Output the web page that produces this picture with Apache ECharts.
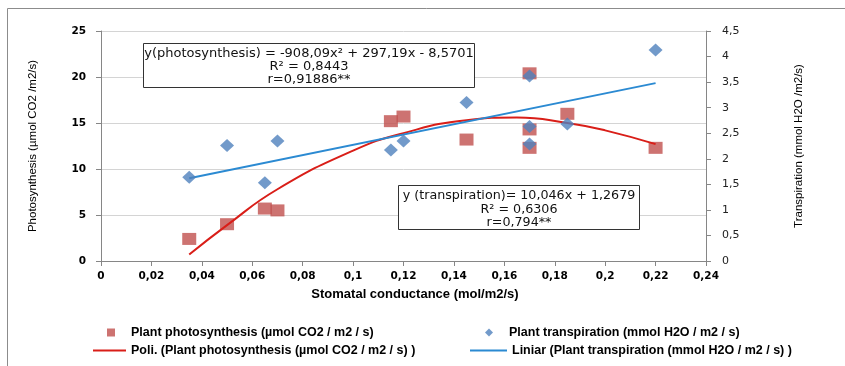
<!DOCTYPE html>
<html>
<head>
<meta charset="utf-8">
<script src="https://cdn.jsdelivr.net/npm/echarts@6/dist/echarts.min.js"></script>
<style>html,body{margin:0;padding:0;background:#fff}#c{width:845px;height:366px}</style>
</head>
<body>
<div id="c"></div>
<script>
// Stomatal conductance values (x) and measured series
const photoX = [0.035, 0.05, 0.065, 0.07, 0.115, 0.12, 0.145, 0.17, 0.17, 0.17, 0.185, 0.22];
const photoY = [2.4, 4.0, 5.7, 5.5, 15.2, 15.7, 13.2, 20.4, 14.3, 12.3, 16.0, 12.3];
const transX = [0.035, 0.05, 0.065, 0.07, 0.115, 0.12, 0.145, 0.17, 0.17, 0.17, 0.185, 0.22];
const transY = [1.64, 2.26, 1.53, 2.35, 2.17, 2.35, 3.10, 3.62, 2.63, 2.29, 2.68, 4.13];
// Trend lines
const polyX = [0.035, 0.05, 0.07, 0.1, 0.12, 0.145, 0.165, 0.185, 0.2, 0.22];
const polyY = [0.7, 3.9, 7.8, 12.0, 13.9, 15.3, 15.6, 15.0, 14.2, 12.7];
const linX = [0.035, 0.22];
const linY = [1.62, 3.48];

const nPhoto = 'Plant photosynthesis (µmol CO2 / m2 / s)';
const nTrans = 'Plant transpiration (mmol H2O / m2 / s)';
const nPoly = 'Poli. (Plant photosynthesis (µmol CO2 / m2 / s) )';
const nLin = 'Liniar (Plant transpiration (mmol H2O / m2 / s) )';
const xTitle = 'Stomatal conductance (mol/m2/s)';

const box1 = ['y(photosynthesis) = -908,09x² + 297,19x - 8,5701', 'R² = 0,8443', 'r=0,91886**'];
const box2 = ['y (transpiration)= 10,046x + 1,2679', 'R² = 0,6306', 'r=0,794**'];

const zip = (a, b) => a.map((v, i) => [v, b[i]]);
const comma = v => String(v).replace('.', ',');

const chart = echarts.init(document.getElementById('c'));
const legText = {color: '#000', fontFamily: 'Liberation Sans', fontWeight: 'bold', fontSize: 12.5};
const legTextPad = Object.assign({}, legText, {padding: [0, 0, 0, 11]});
chart.setOption({
  animation: false,
  grid: {left: 101, right: 139, top: 31, bottom: 105},
  xAxis: {
    type: 'value', min: 0, max: 0.24, interval: 0.02,
    axisLine: {lineStyle: {color: '#868686'}},
    axisTick: {show: true, length: 5, lineStyle: {color: '#868686'}},
    splitLine: {show: false},
    axisLabel: {formatter: comma, fontFamily: 'DejaVu Sans', fontWeight: 'bold', fontSize: 10.5, color: '#000', margin: 10}
  },
  yAxis: [{
    type: 'value', min: 0, max: 25, interval: 5,
    name: 'Photosynthesis (µmol CO2 /m2/s)', nameLocation: 'middle', nameGap: 62, nameRotate: 90,
    nameTextStyle: {fontFamily: 'Liberation Sans Narrow, Liberation Sans', fontSize: 11.5, color: '#000'},
    axisLine: {show: true, lineStyle: {color: '#868686'}},
    axisTick: {show: true, length: 5, lineStyle: {color: '#868686'}},
    splitLine: {show: true, lineStyle: {color: '#d4d4d4'}},
    axisLabel: {fontFamily: 'DejaVu Sans', fontWeight: 'bold', fontSize: 10.5, color: '#000', margin: 15}
  }, {
    type: 'value', min: 0, max: 4.5, interval: 0.5, position: 'right',
    name: 'Transpiration (mmol H2O /m2/s)', nameLocation: 'middle', nameGap: 87, nameRotate: 90,
    nameTextStyle: {fontFamily: 'Liberation Sans Narrow, Liberation Sans', fontSize: 11.5, color: '#000'},
    axisLine: {show: true, lineStyle: {color: '#868686'}},
    axisTick: {show: true, length: 5, lineStyle: {color: '#868686'}},
    splitLine: {show: false},
    axisLabel: {formatter: comma, fontFamily: 'DejaVu Sans', fontSize: 11, color: '#222', margin: 16}
  }],
  legend: [
    {data: [{name: nPhoto, icon: 'rect'}], left: 102, top: 321, itemWidth: 8, itemHeight: 8, textStyle: legTextPad},
    {data: [{name: nTrans, icon: 'diamond'}], left: 480, top: 321, itemWidth: 8, itemHeight: 8, textStyle: legTextPad},
    {data: [{name: nPoly, icon: 'rect'}], left: 88, top: 339, itemWidth: 33, itemHeight: 2, textStyle: legText},
    {data: [{name: nLin, icon: 'rect'}], left: 465, top: 339, itemWidth: 37, itemHeight: 2, textStyle: legText}
  ],
  series: [
    {name: nPoly, type: 'line', yAxisIndex: 0, data: zip(polyX, polyY), smooth: 0.5, showSymbol: false, symbol: 'none',
     lineStyle: {color: '#d91e18', width: 2}, itemStyle: {color: '#d91e18'}, z: 3},
    {name: nLin, type: 'line', yAxisIndex: 1, data: zip(linX, linY), showSymbol: false, symbol: 'none',
     lineStyle: {color: '#2b8ad2', width: 2}, itemStyle: {color: '#2b8ad2'}, z: 3},
    {name: nPhoto, type: 'scatter', yAxisIndex: 0, data: zip(photoX, photoY), symbol: 'rect', symbolSize: [14, 12],
     itemStyle: {color: '#c0504d'}, z: 2},
    {name: nTrans, type: 'scatter', yAxisIndex: 1, data: zip(transX, transY), symbol: 'diamond', symbolSize: [14, 13],
     itemStyle: {color: '#4f81bd'}, z: 4}
  ],
  graphic: [
    {type: 'rect', shape: {x: 7.5, y: 8.5, width: 900, height: 400}, style: {fill: 'none', stroke: '#8c8c8c', lineWidth: 1}, silent: true, z: -1},
    {type: 'text', z: 5,
     style: {text: xTitle, x: 415, y: 288, textAlign: 'center', font: 'bold 13px "Liberation Sans"', fill: '#000'}},
    {type: 'rect', shape: {x: 143.5, y: 43.5, width: 331, height: 44}, style: {fill: '#fff', stroke: '#333', lineWidth: 1}, z: 10},
    {type: 'text', z: 11,
     style: {text: box1.join('\n'), x: 309, y: 47, textAlign: 'center', font: '13px "DejaVu Sans"', lineHeight: 13, fill: '#111'}},
    {type: 'rect', shape: {x: 398.5, y: 185.5, width: 241, height: 44}, style: {fill: '#fff', stroke: '#333', lineWidth: 1}, z: 10},
    {type: 'text', z: 11,
     style: {text: box2.join('\n'), x: 519, y: 189, textAlign: 'center', font: '12.7px "DejaVu Sans"', lineHeight: 13.5, fill: '#111'}}
  ]
});
</script>
</body>
</html>
